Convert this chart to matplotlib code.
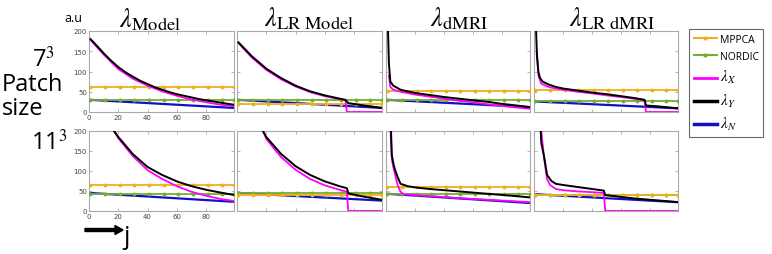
import matplotlib
matplotlib.use("Agg")
import matplotlib.pyplot as plt
from matplotlib.lines import Line2D

# ---------------- data ----------------
titles = [r"$\lambda_{\mathrm{Model}}$", r"$\lambda_{\mathrm{LR\ Model}}$",
          r"$\lambda_{\mathrm{dMRI}}$", r"$\lambda_{\mathrm{LR\ dMRI}}$"]
row_labels = ["7$^3$", "11$^3$"]
legend_labels = ["MPPCA", "NORDIC", r"$\lambda_X$", r"$\lambda_Y$", r"$\lambda_N$"]
marker_x = [1, 11, 21, 31, 41, 51, 61, 71, 81, 91, 99]

# constant thresholds [row][col]
mppca = [[62, 20, 53, 55], [66, 39, 60, 39]]
nordic = [[30, 30, 30, 28], [43, 45, 43, 41]]
# lambda_N straight decays: (start, end) [row][col]
noise_x = [1, 99]
noise = [[(30, 10), (30, 10), (30, 12), (26, 9)],
         [(45, 23), (45, 26), (43, 20), (42, 22)]]

# lambda_Y (black) samples [row][col] -> (x, y)
lamY = [
    [
        ([1, 5, 10, 15, 20, 25, 30, 35, 40, 45, 50, 55, 60, 65, 70, 75, 80, 85, 90, 95, 99],
         [180, 165, 145, 127, 111, 98, 87, 77, 69, 61, 55, 49, 44, 40, 36, 32, 29, 26, 23, 20, 18]),
        ([1, 10, 20, 30, 40, 50, 60, 70, 74, 76, 85, 99],
         [172, 138, 107, 84, 65, 51, 41, 33, 30, 22, 17, 10]),
        ([1, 2, 3, 5, 10, 20, 30, 40, 50, 60, 70, 80, 90, 99],
         [250, 120, 75, 65, 55, 47, 42, 37, 33, 29, 25, 20, 16, 12]),
        ([1, 2, 3, 4, 6, 10, 15, 20, 30, 40, 50, 60, 70, 76, 77, 85, 99],
         [250, 140, 100, 85, 75, 68, 62, 58, 53, 48, 44, 39, 34, 30, 16, 14, 9]),
    ],
    [
        ([15, 20, 30, 40, 50, 60, 70, 80, 90, 99],
         [210, 185, 142, 110, 90, 74, 62, 53, 46, 40]),
        ([16, 20, 30, 40, 50, 60, 70, 75, 76, 85, 99],
         [210, 185, 143, 112, 90, 74, 62, 57, 44, 37, 28]),
        ([3, 4, 5, 6, 8, 10, 15, 20, 30, 40, 50, 60, 70, 80, 90, 99],
         [250, 140, 120, 105, 85, 68, 62, 59, 55, 52, 49, 46, 43, 40, 37, 34]),
        ([4, 5, 7, 9, 12, 15, 20, 30, 40, 48, 49, 60, 70, 80, 90, 99],
         [250, 170, 135, 90, 75, 68, 65, 60, 55, 51, 40, 35, 31, 28, 25, 22]),
    ],
]
# lambda_X (magenta)
lamX = [
    [
        ([1, 10, 20, 30, 40, 50, 60, 70, 80, 90, 99],
         [178, 142, 106, 82, 65, 51, 40, 31, 24, 18, 14]),
        ([1, 10, 20, 30, 40, 50, 60, 70, 74, 75, 99],
         [170, 135, 104, 81, 63, 49, 39, 32, 29, 0, 0]),
        ([2, 3, 5, 10, 20, 30, 40, 50, 60, 70, 80, 90, 99],
         [90, 62, 55, 50, 43, 38, 33, 28, 24, 19, 15, 11, 8]),
        ([2, 3, 5, 10, 15, 20, 30, 40, 50, 60, 70, 76, 77, 99],
         [150, 90, 70, 62, 58, 55, 50, 46, 41, 37, 32, 29, 0, 0]),
    ],
    [
        ([16, 20, 30, 40, 50, 60, 70, 80, 90, 99],
         [210, 182, 137, 102, 80, 62, 48, 38, 30, 25]),
        ([17, 20, 30, 40, 50, 60, 70, 75, 76, 99],
         [210, 180, 135, 103, 80, 64, 53, 48, 0, 0]),
        ([3, 4, 5, 6, 8, 10, 12, 20, 30, 40, 50, 60, 70, 80, 90, 99],
         [210, 130, 110, 95, 65, 48, 42, 40, 37, 35, 32, 30, 28, 26, 24, 22]),
        ([5, 7, 9, 11, 15, 20, 30, 40, 48, 49, 99],
         [200, 130, 80, 65, 55, 52, 49, 47, 45, 0, 0]),
    ],
]

# ---------------- style ----------------
C_MPPCA = "#EDB120"
C_NORDIC = "#77AC30"
C_X = "#FF00FF"
C_Y = "#000000"
C_N = "#1010C8"
plt.rcParams["mathtext.fontset"] = "stix"

fig = plt.figure(figsize=(7.72, 2.55), dpi=100)
W, H = 772.0, 255.0
col_px = [(89, 234), (237, 382), (386, 530), (534, 678)]
row_px = [(32, 113), (132, 212)]
title_x = [0.42, 0.5, 0.51, 0.54]

for r in range(2):
    for c in range(4):
        x0, x1 = col_px[c]
        t, b = row_px[r]
        ax = fig.add_axes([x0 / W, 1 - b / H, (x1 - x0) / W, (b - t) / H])
        ax.plot(noise_x, list(noise[r][c]), color=C_N, lw=1.6, zorder=2)
        ax.plot(marker_x, [nordic[r][c]] * len(marker_x), color=C_NORDIC, lw=1.3,
                marker="o", ms=1.8, zorder=3)
        ax.plot(marker_x, [mppca[r][c]] * len(marker_x), color=C_MPPCA, lw=1.3,
                marker="o", ms=1.8, zorder=3)
        ax.plot(*lamX[r][c], color=C_X, lw=1.3, zorder=4)
        ax.plot(*lamY[r][c], color=C_Y, lw=1.4, zorder=5)
        ax.set_xlim(0, 99)
        ax.set_ylim(0, 200)
        ax.set_xticks([0, 20, 40, 60, 80])
        ax.set_yticks([0, 50, 100, 150, 200])
        ax.tick_params(direction="in", length=2, width=0.5, colors="#999999",
                       top=True, right=True, labelsize=5, labelcolor="#444444", pad=1.5)
        if c != 0:
            ax.set_xticklabels([])
            ax.set_yticklabels([])
        for s in ax.spines.values():
            s.set_color("#aaaaaa")
            s.set_linewidth(0.8)
        if r == 0:
            ax.set_title(titles[c], fontsize=19, pad=3, x=title_x[c])

# left-side labels
LFONT = ["Open Sans", "DejaVu Sans"]
fig.text(73 / W, 1 - 19 / H, "a.u", fontsize=9, ha="center", va="center", family=LFONT)
fig.text(44 / W, 1 - 60 / H, row_labels[0], fontsize=17, ha="center", va="center", family=LFONT)
fig.text(49 / W, 1 - 143 / H, row_labels[1], fontsize=17, ha="center", va="center", family=LFONT)
fig.text(2 / W, 1 - 97 / H, "Patch\nsize", fontsize=17, ha="left", va="center",
         linespacing=1.05, family=LFONT)
fig.text(126 / W, 1 - 238 / H, "j", fontsize=18, ha="center", va="center", family=LFONT)
fig.patches.append(matplotlib.patches.FancyArrow(85 / W, 1 - 231 / H, 30 / W, 0,
                                                  width=3 / H, head_width=9 / H,
                                                  head_length=8 / W,
                                                  color="black",
                                                  transform=fig.transFigure))

# legend
handles = [
    Line2D([], [], color=C_MPPCA, lw=1.5, marker="o", ms=2),
    Line2D([], [], color=C_NORDIC, lw=1.5, marker="o", ms=2),
    Line2D([], [], color=C_X, lw=2),
    Line2D([], [], color=C_Y, lw=2.5),
    Line2D([], [], color=C_N, lw=2.5),
]
leg = fig.legend(handles, legend_labels, loc="upper left",
                 bbox_to_anchor=(689 / W, 1 - 30 / H),
                 frameon=True, fancybox=False, edgecolor="#444444",
                 handlelength=2.2, handletextpad=0.3, labelspacing=0.6,
                 borderpad=0.45, borderaxespad=0, prop={"family": LFONT, "size": 7.5})
for t in leg.get_texts()[2:]:
    t.set_fontsize(11)
leg.get_frame().set_linewidth(0.8)

fig.savefig("out.png", dpi=100)
